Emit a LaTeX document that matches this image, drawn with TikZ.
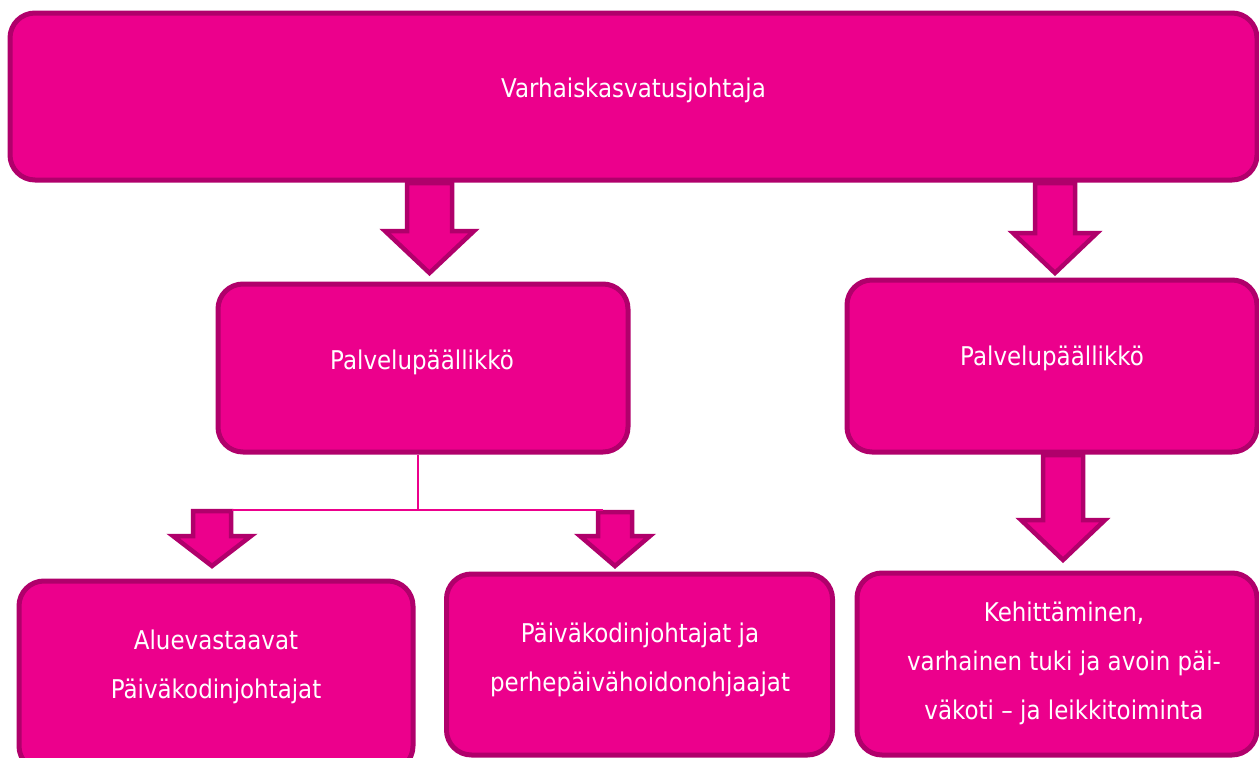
\documentclass[tikz,border=0pt]{standalone}
\usepackage{fontspec}
\setmainfont{DejaVu Sans}[FakeStretch=0.89]
\definecolor{pinkfill}{HTML}{EC008C}
\definecolor{pinkline}{HTML}{B0006B}
\begin{document}
\begin{tikzpicture}[x=1pt,y=-1pt,
  box/.style={draw=pinkline,fill=pinkfill,line width=5pt,rounded corners=25pt,inner sep=0pt},
  lbl/.style={text=white,font=\fontsize{25.8}{49}\selectfont,align=center,inner sep=0pt},
  blockarrow/.style={draw=pinkline,fill=pinkfill,line width=4.5pt,line join=miter},
  thin/.style={draw=pinkfill,line width=1.8pt}]
\useasboundingbox (0,0) rectangle (1259,758);
% boxes
\node[box,minimum width=1247pt,minimum height=167pt] (top) at (633.5,96.5) {};
\node[box,minimum width=410pt,minimum height=168pt] (pl) at (423,368) {};
\node[box,minimum width=410pt,minimum height=172pt] (pr) at (1052,366) {};
\node[box,minimum width=394pt,minimum height=190pt] (bl) at (216,676) {};
\node[box,minimum width=386pt,minimum height=181pt] (bm) at (639.5,664.5) {};
\node[box,minimum width=400pt,minimum height=182pt] (br) at (1057,664) {};
% texts
\node[lbl] (ttop) at (633.5,90) {Varhaiskasvatusjohtaja};
\node[lbl] (tpl) at (422,362) {Palvelupäällikkö};
\node[lbl] (tpr) at (1052,358) {Palvelupäällikkö};
\node[lbl] (tbl) at (216,667) {Aluevastaavat\\Päiväkodinjohtajat};
\node[lbl] (tbm) at (640,660) {Päiväkodinjohtajat ja\\perhepäivähoidonohjaajat};
\node[lbl] (tbr) at (1064,663) {Kehittäminen,\\varhainen tuki ja avoin päi-\\väkoti – ja leikkitoiminta};
% block arrows
\draw[blockarrow] (407,183) -- (452,183) -- (452,231) -- (474,231) -- (429.5,273) -- (385,231) -- (407,231) -- cycle;
\draw[blockarrow] (1035,183) -- (1075,183) -- (1075,233) -- (1097,233) -- (1055,273) -- (1013,233) -- (1035,233) -- cycle;
\draw[blockarrow] (1043,455) -- (1083,455) -- (1083,520) -- (1105,520) -- (1063,560) -- (1021,520) -- (1043,520) -- cycle;
\draw[blockarrow] (193,511) -- (231,511) -- (231,536) -- (251,536) -- (212,566) -- (173,536) -- (193,536) -- cycle;
\draw[blockarrow] (598,512) -- (632,512) -- (632,536) -- (650,536) -- (615,566) -- (580,536) -- (598,536) -- cycle;
% connector
\coordinate (cj) at (418,510);
\coordinate (cl) at (232,510);
\coordinate (cr) at (603,510);
\draw[thin] (pl.south -| cj) -- (cj);
\draw[thin] (cl) -- (cr);
\end{tikzpicture}
\end{document}
